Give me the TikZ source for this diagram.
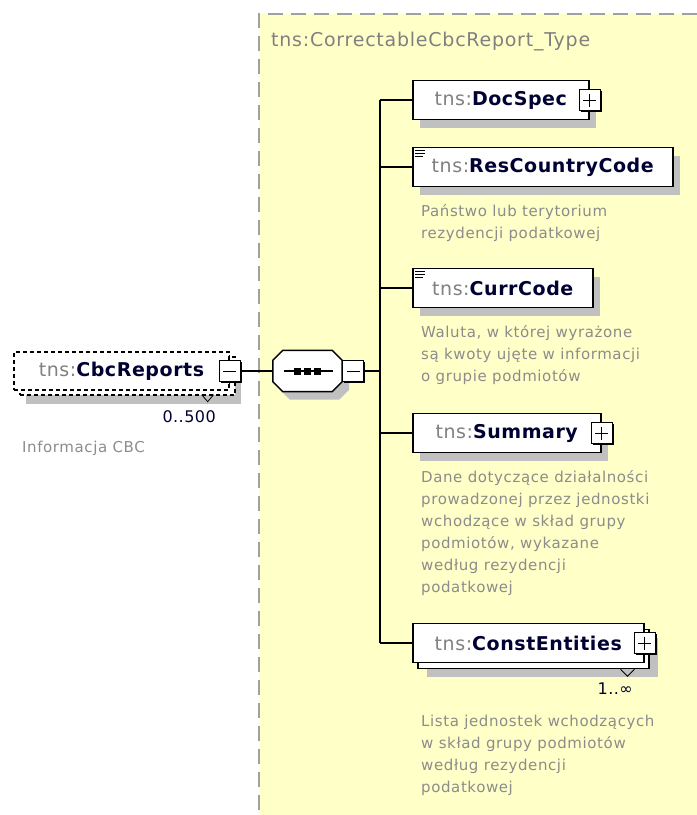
\documentclass[tikz,border=0pt]{standalone}
\usepackage{fontspec}
\newfontfamily\elemfont[LetterSpace=3]{DejaVu Sans}
\newfontfamily\descfont[LetterSpace=4]{DejaVu Sans}
\usepackage{tikz}
\usetikzlibrary{positioning,shadows}
\definecolor{panelyellow}{HTML}{FFFFC8}
\definecolor{panelborder}{HTML}{A0A0A0}
\definecolor{prefixgray}{HTML}{808080}
\definecolor{namenavy}{HTML}{000033}
\definecolor{descgray}{HTML}{8C8C8C}
\definecolor{shadowgray}{HTML}{C0C0C0}
\newcommand{\tnsname}[1]{{\color{prefixgray}tns:}{\bfseries\color{namenavy}#1}}
\tikzset{elem base/.style={draw=black,line width=1.5pt,fill=white,inner sep=0pt,minimum height=39pt,anchor=west,font=\fontsize{19}{23}\selectfont\elemfont},
	elem node/.style={elem base,general shadow={fill=shadowgray,shadow xshift=7pt,shadow yshift=-8pt}},
	elem multi/.style={elem base,general shadow={fill=shadowgray,shadow xshift=14pt,shadow yshift=-14pt},
		general shadow={draw=black,fill=white,line width=1.5pt,shadow xshift=5pt,shadow yshift=-6pt}},
	desc node/.style={anchor=north west,inner sep=0pt,align=left,text=descgray,font=\fontsize{15}{22}\selectfont\descfont},
	occ node/.style={anchor=east,inner sep=0pt,text=namenavy,font=\fontsize{16}{18}\selectfont\elemfont},
	pm box/.style={draw=black,fill=white,line width=1pt,minimum size=21pt,inner sep=0pt,
		general shadow={fill=black,shadow xshift=1.5pt,shadow yshift=-1.5pt}},
	minus box/.style={pm box,path picture={\draw[line width=1pt] ([xshift=4pt]path picture bounding box.west) -- ([xshift=-4pt]path picture bounding box.east);}},
	plus box/.style={pm box,path picture={\draw[line width=1pt] ([xshift=4pt]path picture bounding box.west) -- ([xshift=-4pt]path picture bounding box.east);
		\draw[line width=1pt] ([yshift=-4pt]path picture bounding box.north) -- ([yshift=4pt]path picture bounding box.south);}},
	seq node/.style={inner sep=0pt,minimum width=69pt,minimum height=41pt},
	seq frame/.style={draw=black,line width=1.5pt,fill=white,general shadow={fill=shadowgray,shadow xshift=7pt,shadow yshift=-8pt}},
	link/.style={draw=black,line width=1.5pt},
	facet icon/.style={line width=0.8pt}
}

\begin{document}
\begin{tikzpicture}[x=1pt,y=-1pt]
	\useasboundingbox (0,0) rectangle (697,815);
	
	%% type panel
	\fill[panelyellow] (259,14) rectangle (697,815);
	\draw[panelborder,line width=2pt,dash pattern=on 15pt off 8pt] (697,14) -- (259,14) -- (259,815);
	\node[anchor=west,inner sep=0pt,text=prefixgray,font=\fontsize{19}{22}\selectfont\descfont] (title) at (271,42) {tns:CorrectableCbcReport\_Type};
	
	%% root element
	\node[draw=black,line width=1.3pt,dash pattern=on 4pt off 3pt,fill=white,inner sep=0pt,minimum width=215pt,minimum height=38pt,
		general shadow={fill=shadowgray,shadow xshift=12pt,shadow yshift=-14pt},
		general shadow={draw=black,fill=white,line width=1.3pt,dash pattern=on 4pt off 3pt,shadow xshift=6pt,shadow yshift=-5pt},
		font=\fontsize{19}{23}\selectfont\elemfont] (cbc) at (121.5,371) {\tnsname{CbcReports}\hspace{12pt}};
	\node[minus box] (cbcminus) at (cbc.east) {};
	\draw[line width=1pt] (cbcminus.north) -- ++(0,-5);
	\draw[line width=1pt] (cbcminus.south) -- ++(0,5);
	\draw[line width=0.8pt] ([shift={(-28,4)}]cbc.south east) -- ++(6,7) -- ++(6,-7);
	\node[occ node] (cbcocc) at (216,417) {0..500};
	\node[desc node,anchor=west] (cbcdesc) at (22,448) {Informacja CBC};
	
	%% sequence
	\node[seq node] (seq) at (307.5,371) {};
	\path[seq frame] ([xshift=10pt]seq.north west) -- ([xshift=-10pt]seq.north east) -- ([yshift=-10pt]seq.north east)
		-- ([yshift=10pt]seq.south east) -- ([xshift=-10pt]seq.south east) -- ([xshift=10pt]seq.south west)
		-- ([yshift=10pt]seq.south west) -- ([yshift=-10pt]seq.north west) -- cycle;
	\draw[link] ([xshift=-24pt]seq.center) -- ([xshift=25pt]seq.center);
	\foreach \dx in {-10,0,10}
		\fill ([xshift=\dx pt]seq.center) ++(-3.5,-3.5) rectangle ++(7,7);
	\node[minus box,anchor=west] (seqminus) at (seq.east) {};
	
	%% children
	\node[elem node,minimum width=176pt] (docspec) at (412,100) {\tnsname{DocSpec}};
	\node[plus box] (docspecplus) at (docspec.east) {};
	\node[elem node,minimum width=260pt] (rescountry) at (412,167) {\tnsname{ResCountryCode}};
	\node[desc node] (rescountrydesc) at (421,204.5) {Państwo lub terytorium\\rezydencji podatkowej};
	\node[elem node,minimum width=180pt] (currcode) at (412,288) {\tnsname{CurrCode}};
	\node[desc node] (currcodedesc) at (421,325.5) {Waluta, w której wyrażone\\są kwoty ujęte w informacji\\o grupie podmiotów};
	\node[elem node,minimum width=188pt] (summary) at (412,433) {\tnsname{Summary}};
	\node[plus box] (summaryplus) at (summary.east) {};
	\node[desc node] (summarydesc) at (421,470.5) {Dane dotyczące działalności\\prowadzonej przez jednostki\\wchodzące w skład grupy\\podmiotów, wykazane\\według rezydencji\\podatkowej};
	\node[elem multi,minimum width=231pt] (constent) at (412,643) {\tnsname{ConstEntities}};
	\node[plus box] (constentplus) at (constent.east) {};
	\draw[line width=0.8pt] ([shift={(-24,6)}]constent.south east) -- ++(7,7) -- ++(7,-7);
	\node[occ node] (constentocc) at (633,689) {1..∞};
	\node[desc node] (constentdesc) at (421,714.5) {Lista jednostek wchodzących\\w skład grupy podmiotów\\według rezydencji\\podatkowej};
	
	%% facet marks
	\foreach \n in {rescountry,currcode}
		\foreach \dy/\len in {4/10,7/10,10/8}
			\draw[facet icon] ([xshift=3pt,yshift=-\dy pt]\n.north west) -- ++(\len,0);
	
	%% connectors
	\coordinate (fork) at (380,371);
	\path[link]
	(cbcminus.east) edge (seq.west)
	(seqminus.east) edge (fork)
	(fork |- docspec.west) edge (fork |- constent.west)
	;
	\foreach \n in {docspec,rescountry,currcode,summary,constent}
		\draw[link] (fork |- \n.west) -- (\n.west);
\end{tikzpicture}
\end{document}
